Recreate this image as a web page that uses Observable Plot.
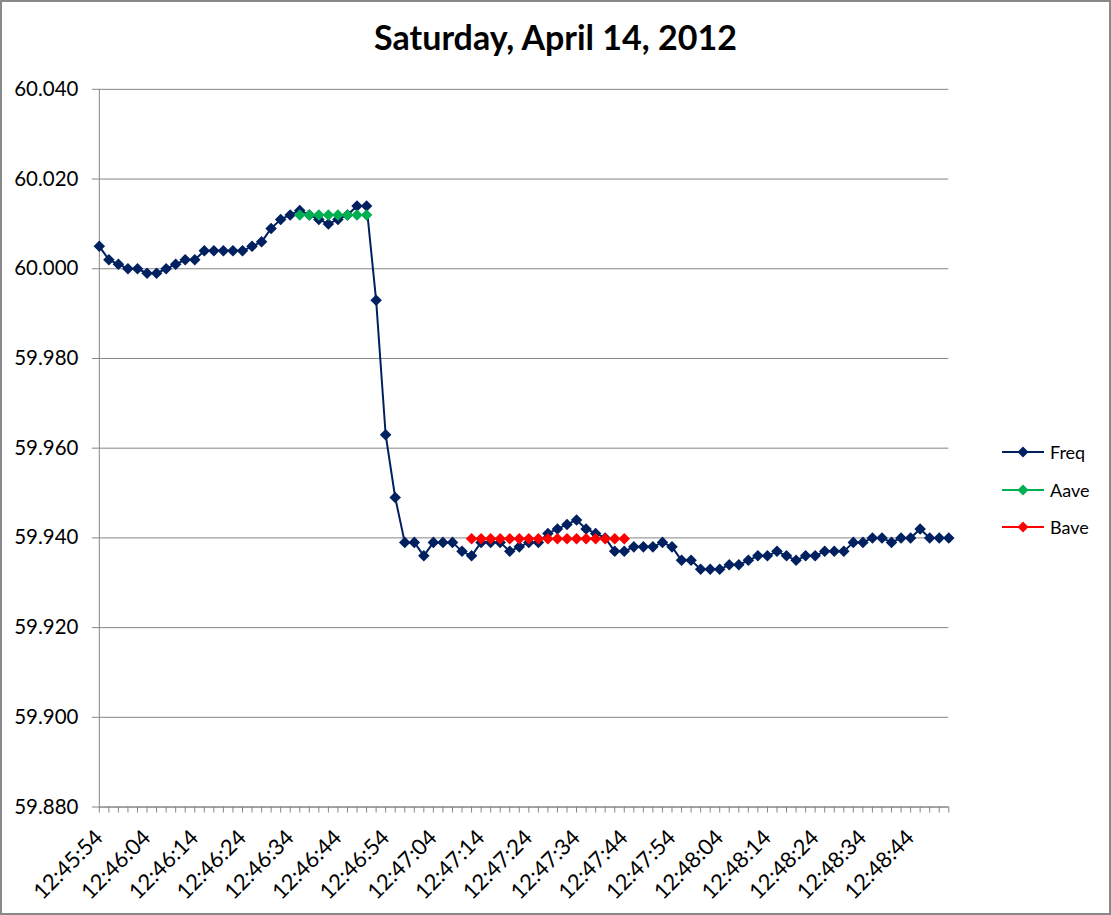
<!DOCTYPE html>
<html><head><meta charset="utf-8">
<script src="https://cdn.jsdelivr.net/npm/d3@7"></script>
<script src="https://cdn.jsdelivr.net/npm/@observablehq/plot@0.6"></script>
<style>
body{margin:0;background:#fff}
#chart{position:relative;width:1111px;height:915px;box-sizing:border-box;border:2px solid #898989;background:#fff;font-family:Lato, sans-serif;overflow:hidden}
#title{position:absolute;left:-2px;width:1111px;top:18px;text-align:center;font-weight:bold;font-size:34px;line-height:34px;color:#000}
#plot{position:absolute;left:-2px;top:-2px}
#legend{position:absolute;left:998px;top:0px;font-size:18px;color:#000}
.item{position:absolute;left:0;height:20px;display:flex;align-items:center;white-space:nowrap}
.item svg{margin-right:6px}
</style></head>
<body>
<div id="chart">
  <div id="plot"></div>
  <div id="title">Saturday, April 14, 2012</div>
  <div id="legend"></div>
</div>
<script>
const times = ["12:45:54","12:45:56","12:45:58","12:46:00","12:46:02","12:46:04","12:46:06","12:46:08","12:46:10","12:46:12",
"12:46:14","12:46:16","12:46:18","12:46:20","12:46:22","12:46:24","12:46:26","12:46:28","12:46:30","12:46:32",
"12:46:34","12:46:36","12:46:38","12:46:40","12:46:42","12:46:44","12:46:46","12:46:48","12:46:50","12:46:52",
"12:46:54","12:46:56","12:46:58","12:47:00","12:47:02","12:47:04","12:47:06","12:47:08","12:47:10","12:47:12",
"12:47:14","12:47:16","12:47:18","12:47:20","12:47:22","12:47:24","12:47:26","12:47:28","12:47:30","12:47:32",
"12:47:34","12:47:36","12:47:38","12:47:40","12:47:42","12:47:44","12:47:46","12:47:48","12:47:50","12:47:52",
"12:47:54","12:47:56","12:47:58","12:48:00","12:48:02","12:48:04","12:48:06","12:48:08","12:48:10","12:48:12",
"12:48:14","12:48:16","12:48:18","12:48:20","12:48:22","12:48:24","12:48:26","12:48:28","12:48:30","12:48:32",
"12:48:34","12:48:36","12:48:38","12:48:40","12:48:42","12:48:44","12:48:46","12:48:48","12:48:50","12:48:52"];

const freq = [60.005,60.002,60.001,60.000,60.000,59.999,59.999,60.000,60.001,60.002,
60.002,60.004,60.004,60.004,60.004,60.004,60.005,60.006,60.009,60.011,
60.012,60.013,60.012,60.011,60.010,60.011,60.012,60.014,60.014,59.993,
59.963,59.949,59.939,59.939,59.936,59.939,59.939,59.939,59.937,59.936,
59.939,59.939,59.939,59.937,59.938,59.939,59.939,59.941,59.942,59.943,
59.944,59.942,59.941,59.940,59.937,59.937,59.938,59.938,59.938,59.939,
59.938,59.935,59.935,59.933,59.933,59.933,59.934,59.934,59.935,59.936,
59.936,59.937,59.936,59.935,59.936,59.936,59.937,59.937,59.937,59.939,
59.939,59.940,59.940,59.939,59.940,59.940,59.942,59.940,59.940,59.940];

const aaveTimes = ["12:46:36","12:46:38","12:46:40","12:46:42","12:46:44","12:46:46","12:46:48","12:46:50"];
const aave = [60.012,60.012,60.012,60.012,60.012,60.012,60.012,60.012];

const baveTimes = ["12:47:12","12:47:14","12:47:16","12:47:18","12:47:20","12:47:22","12:47:24","12:47:26","12:47:28",
"12:47:30","12:47:32","12:47:34","12:47:36","12:47:38","12:47:40","12:47:42","12:47:44"];
const bave = [59.9398,59.9398,59.9398,59.9398,59.9398,59.9398,59.9398,59.9398,59.9398,
59.9398,59.9398,59.9398,59.9398,59.9398,59.9398,59.9398,59.9398];

const xLabels = ["12:45:54","12:46:04","12:46:14","12:46:24","12:46:34","12:46:44","12:46:54","12:47:04","12:47:14",
"12:47:24","12:47:34","12:47:44","12:47:54","12:48:04","12:48:14","12:48:24","12:48:34","12:48:44"];
const yTicks = [59.88,59.90,59.92,59.94,59.96,59.98,60.00,60.02,60.04];

const seriesNames = ["Freq","Aave","Bave"];
const seriesColors = ["#002060","#00B050","#FF0000"];

const freqData = times.map((t,i)=>({t, v: freq[i]}));
const aaveData = aaveTimes.map((t,i)=>({t, v: aave[i]}));
const baveData = baveTimes.map((t,i)=>({t, v: bave[i]}));

const grid = "#868686";
const plot = Plot.plot({
  width: 1111, height: 915,
  marginLeft: 99, marginRight: 161, marginTop: 89, marginBottom: 107,
  style: {fontFamily: "Lato, sans-serif", fontSize: "20px", color: "#000", background: "transparent"},
  x: {type: "point", domain: times, padding: 0},
  y: {domain: [59.88, 60.04]},
  marks: [
    Plot.gridY(yTicks, {stroke: grid, strokeOpacity: 1, strokeWidth: 1}),
    Plot.axisY({ticks: yTicks, tickSize: 7, tickPadding: 14, tickFormat: d3.format(".3f"), stroke: grid, fontSize: 20.5, label: null}),
    Plot.ruleX([times[0]], {y1: 59.88, y2: 60.04, stroke: grid}),
    Plot.ruleY([59.88], {stroke: grid}),
    Plot.axisX({ticks: times, tickSize: 6, tickFormat: () => "", stroke: grid, label: null}),
    Plot.text(xLabels, {x: d => d, frameAnchor: "bottom", rotate: -45, textAnchor: "end", dx: 5, dy: 32, fontSize: 22, fill: "#000"}),
    Plot.line(freqData, {x: "t", y: "v", stroke: seriesColors[0], strokeWidth: 2}),
    Plot.dot(freqData, {x: "t", y: "v", symbol: "diamond2", r: 5.2, fill: seriesColors[0], stroke: null}),
    Plot.line(aaveData, {x: "t", y: "v", stroke: seriesColors[1], strokeWidth: 2}),
    Plot.dot(aaveData, {x: "t", y: "v", symbol: "diamond2", r: 5.2, fill: seriesColors[1], stroke: null}),
    Plot.line(baveData, {x: "t", y: "v", stroke: seriesColors[2], strokeWidth: 2}),
    Plot.dot(baveData, {x: "t", y: "v", symbol: "diamond2", r: 5.2, fill: seriesColors[2], stroke: null})
  ]
});
document.getElementById("plot").appendChild(plot);

const legend = document.getElementById("legend");
const legendY = [452, 490, 527];
seriesNames.forEach((name, i) => {
  const div = document.createElement("div");
  div.className = "item";
  div.style.top = (legendY[i] - 2 - 10) + "px";
  div.innerHTML = `<svg width="44" height="14"><line x1="2" x2="44" y1="7" y2="7" stroke="${seriesColors[i]}" stroke-width="2"/>` +
    `<path d="M23,1.5 L28.5,7 L23,12.5 L17.5,7 Z" fill="${seriesColors[i]}"/></svg><span>${name}</span>`;
  legend.appendChild(div);
});
</script>
</body></html>
